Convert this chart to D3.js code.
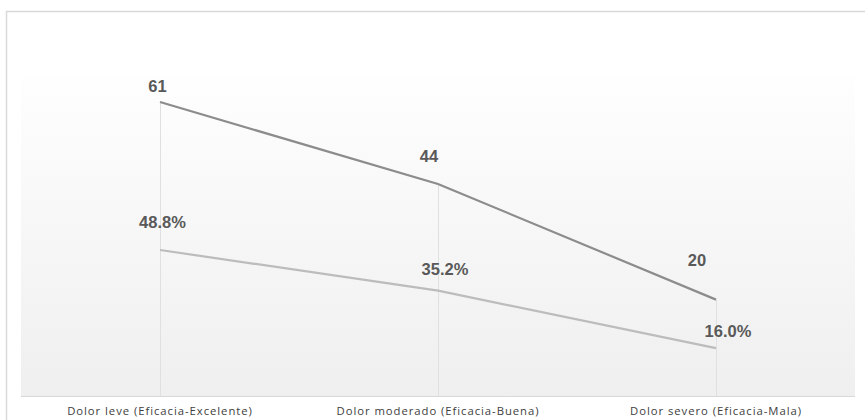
<!DOCTYPE html>
<html>
<head>
<meta charset="utf-8">
<script src="https://cdn.jsdelivr.net/npm/d3@7"></script>
<style>
  html, body { margin: 0; padding: 0; background: #fff; }
  svg { display: block; }
</style>
</head>
<body>
<svg id="chart" width="865" height="420"></svg>
<script>
// Categories and the two series
const categories = [
  "Dolor leve (Eficacia-Excelente)",
  "Dolor moderado (Eficacia-Buena)",
  "Dolor severo (Eficacia-Mala)"
];
const casos = [61, 44, 20];
const porcentaje = [48.8, 35.2, 16.0];

// Value domains for the count axis and the percentage axis
const casosDomain = [0, 66.2];
const porcentajeDomain = [0, 106.6];

// Label nudges (dx, dy) relative to each point
const casosLabelShift = [[-2.5, -10], [-9, -22], [-19, -34]];
const porcentajeLabelShift = [[2.5, -22], [7, -16], [12, -11]];

const W = 865, H = 420;
const plot = { left: 21, right: 855, top: 77, bottom: 396 };

const svg = d3.select("#chart");

// gradient fill of the plot area
const defs = svg.append("defs");
const grad = defs.append("linearGradient")
  .attr("id", "plotBg").attr("x1", 0).attr("y1", 0).attr("x2", 0).attr("y2", 1);
grad.append("stop").attr("offset", "0%").attr("stop-color", "#fefefe");
grad.append("stop").attr("offset", "100%").attr("stop-color", "#efefef");

// outer frame
svg.append("rect")
  .attr("x", 6.5).attr("y", 11.5)
  .attr("width", W + 20).attr("height", H + 20)
  .attr("fill", "#fff")
  .attr("stroke", "#d9d9d9").attr("stroke-width", 1.5);

svg.append("rect")
  .attr("x", plot.left).attr("y", plot.top)
  .attr("width", plot.right - plot.left).attr("height", plot.bottom - plot.top)
  .attr("fill", "url(#plotBg)");

const x = d3.scaleBand().domain(categories).range([plot.left, plot.right]);
const cx = d => x(d) + x.bandwidth() / 2;
const yCasos = d3.scaleLinear().domain(casosDomain).range([plot.bottom, plot.top]);
const yPct = d3.scaleLinear().domain(porcentajeDomain).range([plot.bottom, plot.top]);

// baseline
svg.append("line")
  .attr("x1", plot.left).attr("x2", plot.right)
  .attr("y1", plot.bottom + 0.5).attr("y2", plot.bottom + 0.5)
  .attr("stroke", "#d9d9d9").attr("stroke-width", 1);

// drop lines from the upper series down to the baseline
svg.append("g").selectAll("line")
  .data(categories)
  .join("line")
  .attr("x1", d => Math.round(cx(d)) + 0.5)
  .attr("x2", d => Math.round(cx(d)) + 0.5)
  .attr("y1", (d, i) => yCasos(casos[i]))
  .attr("y2", plot.bottom)
  .attr("stroke", "#e0e0e0").attr("stroke-width", 1);

// category labels
const xAxis = d3.axisBottom(x).tickSize(0).tickPadding(0);
const axisG = svg.append("g")
  .attr("transform", `translate(0, ${plot.bottom})`)
  .call(xAxis);
axisG.select(".domain").remove();
axisG.selectAll("text")
  .attr("dy", null)
  .attr("y", 18.5)
  .attr("font-family", "'Open Sans', sans-serif")
  .attr("font-size", 11.3)
  .attr("letter-spacing", "0.95px")
  .attr("fill", "#404040");

const line = (scale) => d3.line()
  .x((d, i) => cx(categories[i]))
  .y(d => scale(d));

svg.append("path")
  .datum(porcentaje)
  .attr("d", line(yPct))
  .attr("fill", "none")
  .attr("stroke", "#bcbcbc").attr("stroke-width", 2.2);

svg.append("path")
  .datum(casos)
  .attr("d", line(yCasos))
  .attr("fill", "none")
  .attr("stroke", "#8c8c8c").attr("stroke-width", 2.2);

const labelFont = "'Liberation Sans', Arial, sans-serif";

svg.append("g").selectAll("text")
  .data(casos)
  .join("text")
  .attr("x", (d, i) => cx(categories[i]) + casosLabelShift[i][0])
  .attr("y", (d, i) => yCasos(d) + casosLabelShift[i][1])
  .attr("text-anchor", "middle")
  .attr("font-family", labelFont)
  .attr("font-size", 16.5)
  .attr("font-weight", "bold")
  .attr("fill", "#595959")
  .text(d => d3.format("d")(d));

svg.append("g").selectAll("text")
  .data(porcentaje)
  .join("text")
  .attr("x", (d, i) => cx(categories[i]) + porcentajeLabelShift[i][0])
  .attr("y", (d, i) => yPct(d) + porcentajeLabelShift[i][1])
  .attr("text-anchor", "middle")
  .attr("font-family", labelFont)
  .attr("font-size", 16.5)
  .attr("font-weight", "bold")
  .attr("fill", "#595959")
  .text(d => d3.format(".1f")(d) + "%");
</script>
</body>
</html>
